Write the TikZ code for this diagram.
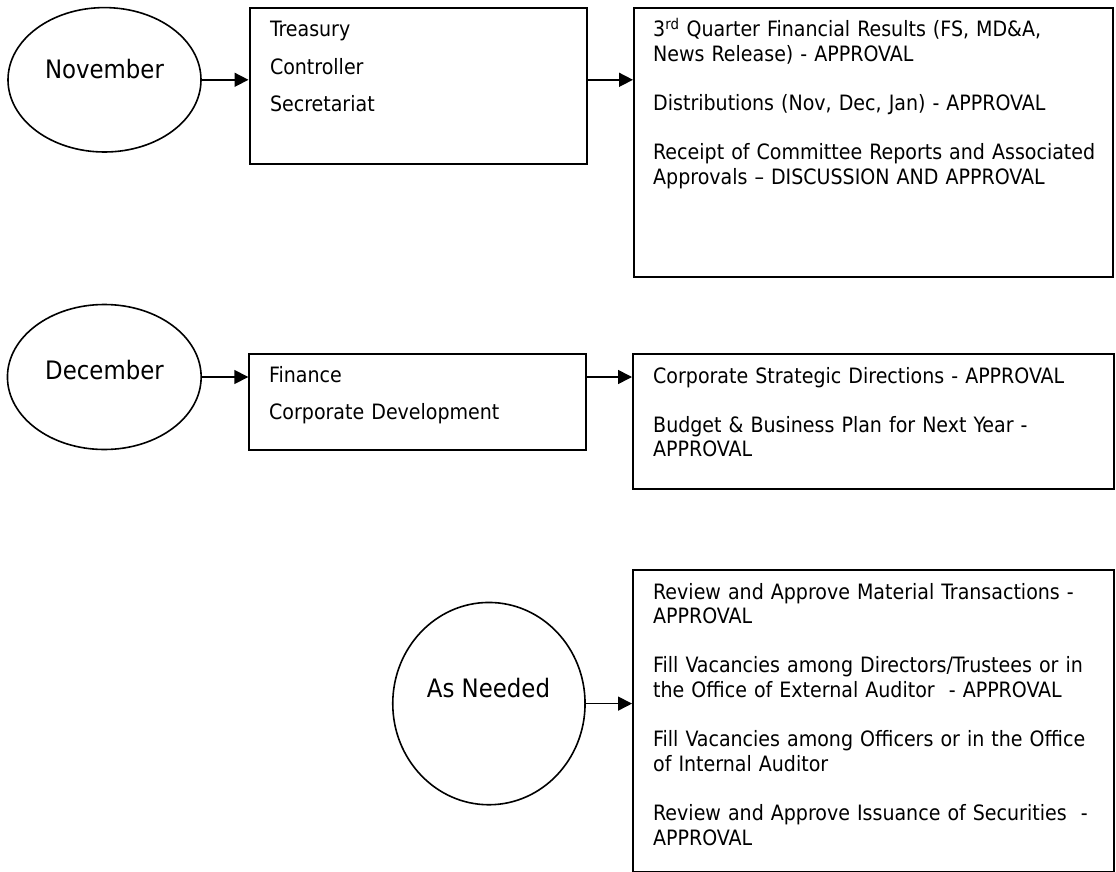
\documentclass[tikz,border=0pt]{standalone}
\usepackage{fontspec}
\setmainfont{DejaVu Sans Condensed}
\usetikzlibrary{arrows.meta,shapes.geometric}
\begin{document}
\begin{tikzpicture}[x=1pt,y=-1pt,
  month/.style={draw, ellipse, line width=1.6pt, inner sep=0pt},
  monthtext/.style={anchor=base, inner sep=0pt, font=\fontsize{25.4}{30}\selectfont},
  box/.style={draw, rectangle, line width=2pt, anchor=north west, inner sep=0pt},
  items/.style={anchor=base west, inner sep=0pt, align=left, text width=455pt,
                font=\fontsize{21.15}{24.6}\selectfont},
  units/.style={anchor=base west, inner sep=0pt, align=left, text width=300pt},
  flow/.style={line width=1.6pt, -{Triangle[length=14pt,width=14pt]}}
]
\useasboundingbox (0,0) rectangle (1116,872);

% ---- November ----
\node[month, minimum width=193pt, minimum height=144.4pt] (eN) at (104.5,79.8) {};
\node[monthtext] (tN) at (104.5,79) {November};
\node[box, minimum width=337pt, minimum height=155.4pt] (bA1) at (248.5,7.3) {};
\node[units, font=\fontsize{21.15}{37.5}\selectfont] (tA1) at (269.8,36.7)
  {Treasury\\Controller\\Secretariat};
\node[box, minimum width=479pt, minimum height=268.7pt] (bA2) at (633,7.3) {};
\node[items] (tA2) at (653,37)
  {3\textsuperscript{rd} Quarter Financial Results (FS, MD\&A,\\
   News Release) - APPROVAL\\[24.6pt]
   Distributions (Nov, Dec, Jan) - APPROVAL\\[24.6pt]
   Receipt of Committee Reports and Associated\\
   Approvals – DISCUSSION AND APPROVAL};
\draw[flow] (eN.east) -- (eN.east -| bA1.west);
\draw[flow] (eN.east -| bA1.east) -- (eN.east -| bA2.west);

% ---- December ----
\node[month, minimum width=193.7pt, minimum height=145pt] (eD) at (104.3,377) {};
\node[monthtext] (tD) at (104.5,379) {December};
\node[box, minimum width=336.7pt, minimum height=95.8pt] (bB1) at (248.3,352.7) {};
\node[units, font=\fontsize{21.15}{36.5}\selectfont] (tB1) at (269,382.7)
  {Finance\\Corporate Development};
\node[box, minimum width=480.5pt, minimum height=135.3pt] (bB2) at (632,352.7) {};
\node[items] (tB2) at (653,383)
  {Corporate Strategic Directions - APPROVAL\\[24.6pt]
   Budget \& Business Plan for Next Year -\\
   APPROVAL};
\draw[flow] (eD.east) -- (eD.east -| bB1.west);
\draw[flow] (eD.east -| bB1.east) -- (eD.east -| bB2.west);

% ---- As Needed ----
\node[month, minimum width=192.3pt, minimum height=202.3pt] (eA) at (488.9,703.6) {};
\node[monthtext] (tA) at (488.5,697) {As Needed};
\node[box, minimum width=480.7pt, minimum height=301.7pt] (bC) at (632,569) {};
\node[items] (tC) at (653,599)
  {Review and Approve Material Transactions -\\
   APPROVAL\\[24.6pt]
   Fill Vacancies among Directors/Trustees or in\\
   the Office of External Auditor\ \ - APPROVAL\\[24.6pt]
   Fill Vacancies among Officers or in the Office\\
   of Internal Auditor\\[24.6pt]
   Review and Approve Issuance of Securities\ \ -\\
   APPROVAL};
\draw[flow] (eA.east) -- (eA.east -| bC.west);
\end{tikzpicture}
\end{document}
